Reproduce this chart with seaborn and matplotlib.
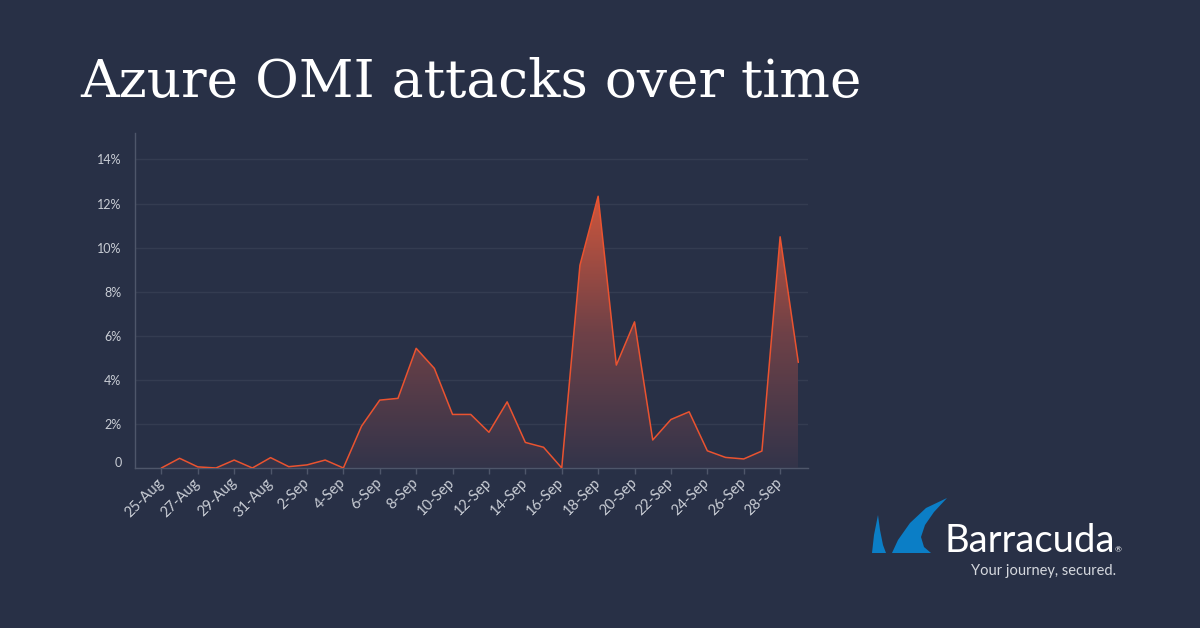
import numpy as np
import pandas as pd
import seaborn as sns
import matplotlib
matplotlib.use("Agg")
from matplotlib import pyplot as plt
from matplotlib import dates as mdates
from matplotlib import transforms
from matplotlib.colors import LinearSegmentedColormap
from matplotlib.patches import Polygon

# daily share of Azure OMI attacks, 25-Aug .. 29-Sep 2021
first_day = "2021-08-25"
attack_pct = [0.0, 0.44, 0.05, 0.0, 0.36, 0.0, 0.47, 0.06, 0.14, 0.36,
              0.0, 1.9, 3.08, 3.16, 5.43, 4.52, 2.43, 2.43, 1.62, 3.0,
              1.16, 0.94, 0.0, 9.2, 12.33, 4.67, 6.63, 1.27, 2.2, 2.55,
              0.78, 0.48, 0.41, 0.77, 10.49, 4.79]
y_ticks = [0, 2, 4, 6, 8, 10, 12, 14]
y_tick_labels = ["0", "2%", "4%", "6%", "8%", "10%", "12%", "14%"]

title = "Azure OMI attacks over time"
brand = "Barracuda"
tagline = "Your journey, secured."

bg = "#283046"
line_col = "#ea5330"
text_col = "#c9cdd5"
spine_col = "#4e566a"
grid_col = "#343c51"

df = pd.DataFrame({"date": pd.date_range(first_day, periods=len(attack_pct), freq="D"),
                   "pct": attack_pct})

sns.set_theme(style="dark")
plt.rcParams["font.family"] = ["Lato", "DejaVu Sans"]

fig = plt.figure(figsize=(12, 6.28), dpi=100)
fig.patch.set_facecolor(bg)
ax = fig.add_axes([0.1128, 0.2548, 0.5605, 0.5334])
ax.set_facecolor(bg)

# gradient fill under the line, clipped to the area
xs = mdates.date2num(df["date"])
top = max(attack_pct)
cmap = LinearSegmentedColormap.from_list("fade", ["#33344a", "#6f4147", "#cd563d"], N=256)
grad = np.linspace(0, 1, 256).reshape(-1, 1)
img = ax.imshow(grad, cmap=cmap, origin="lower", aspect="auto",
                extent=[xs[0], xs[-1], 0, top], zorder=1)
area = ax.fill_between(xs, 0, df["pct"], color="none", lw=0)
clip = Polygon(area.get_paths()[0].vertices, closed=True, transform=ax.transData)
img.set_clip_path(clip)

sns.lineplot(data=df, x="date", y="pct", color=line_col, lw=1.1, ax=ax, zorder=3)

start = xs[0]
ax.set_xlim(start - 1.43, start + 35.53)
ax.set_ylim(0, 15.2)

tick_days = df["date"][::2]
ax.set_xticks(mdates.date2num(tick_days))
ax.set_xticklabels([f"{d.day}-{d.strftime('%b')}" for d in tick_days],
                   rotation=45, ha="right", va="center", rotation_mode="anchor")
ax.set_yticks(y_ticks)
ax.set_yticklabels(y_tick_labels)
ax.set_xlabel("")
ax.set_ylabel("")

ax.tick_params(axis="x", colors=spine_col, labelcolor=text_col, labelsize=10.5,
               length=4, width=1, direction="out", pad=5, bottom=True)
ax.tick_params(axis="y", labelcolor=text_col, labelsize=9, length=0, pad=10)

# the zero label sits a little above the baseline
zero_lab = ax.get_yticklabels()[0]
zero_lab.set_transform(zero_lab.get_transform() +
                       transforms.ScaledTranslation(0, 6 / 100, fig.dpi_scale_trans))

ax.grid(False)
ax.yaxis.grid(True, color=grid_col, lw=1)
for side in ["top", "right"]:
    ax.spines[side].set_visible(False)
for side in ["left", "bottom"]:
    ax.spines[side].set_color(spine_col)
    ax.spines[side].set_linewidth(1)

# title
fig.text(80 / 1200, 1 - 97 / 628, title, color="white", fontsize=38.4,
         family="DejaVu Serif", va="baseline", ha="left")

# Barracuda logo
def fig_pts(pts):
    return [(x / 1200, 1 - y / 628) for x, y in pts]

fin_blue = "#0b7ec6"
small_fin = [(872, 553), (874, 535), (878, 515), (880, 530), (883, 545), (886, 553)]
big_fin = [(892, 553), (898, 540), (910, 523), (926, 508), (947, 498),
           (934, 512), (925, 525), (921, 537), (924, 547), (931, 553)]
for shape in (small_fin, big_fin):
    fig.patches.append(Polygon(fig_pts(shape), closed=True, transform=fig.transFigure,
                               facecolor=fin_blue, edgecolor="none"))
fig.text(944 / 1200, 1 - 552 / 628, brand, color="white", fontsize=27.5,
         family=["Lato", "DejaVu Sans"], va="baseline", ha="left")
fig.text(1115 / 1200, 1 - 552 / 628, "\u00ae", color="white", fontsize=6,
         va="baseline", ha="left")
fig.text(971 / 1200, 1 - 575 / 628, tagline, color="#d5d8de", fontsize=10.5,
         family=["Lato", "DejaVu Sans"], va="baseline", ha="left")

fig.savefig("out.png", dpi=100, facecolor=bg)
